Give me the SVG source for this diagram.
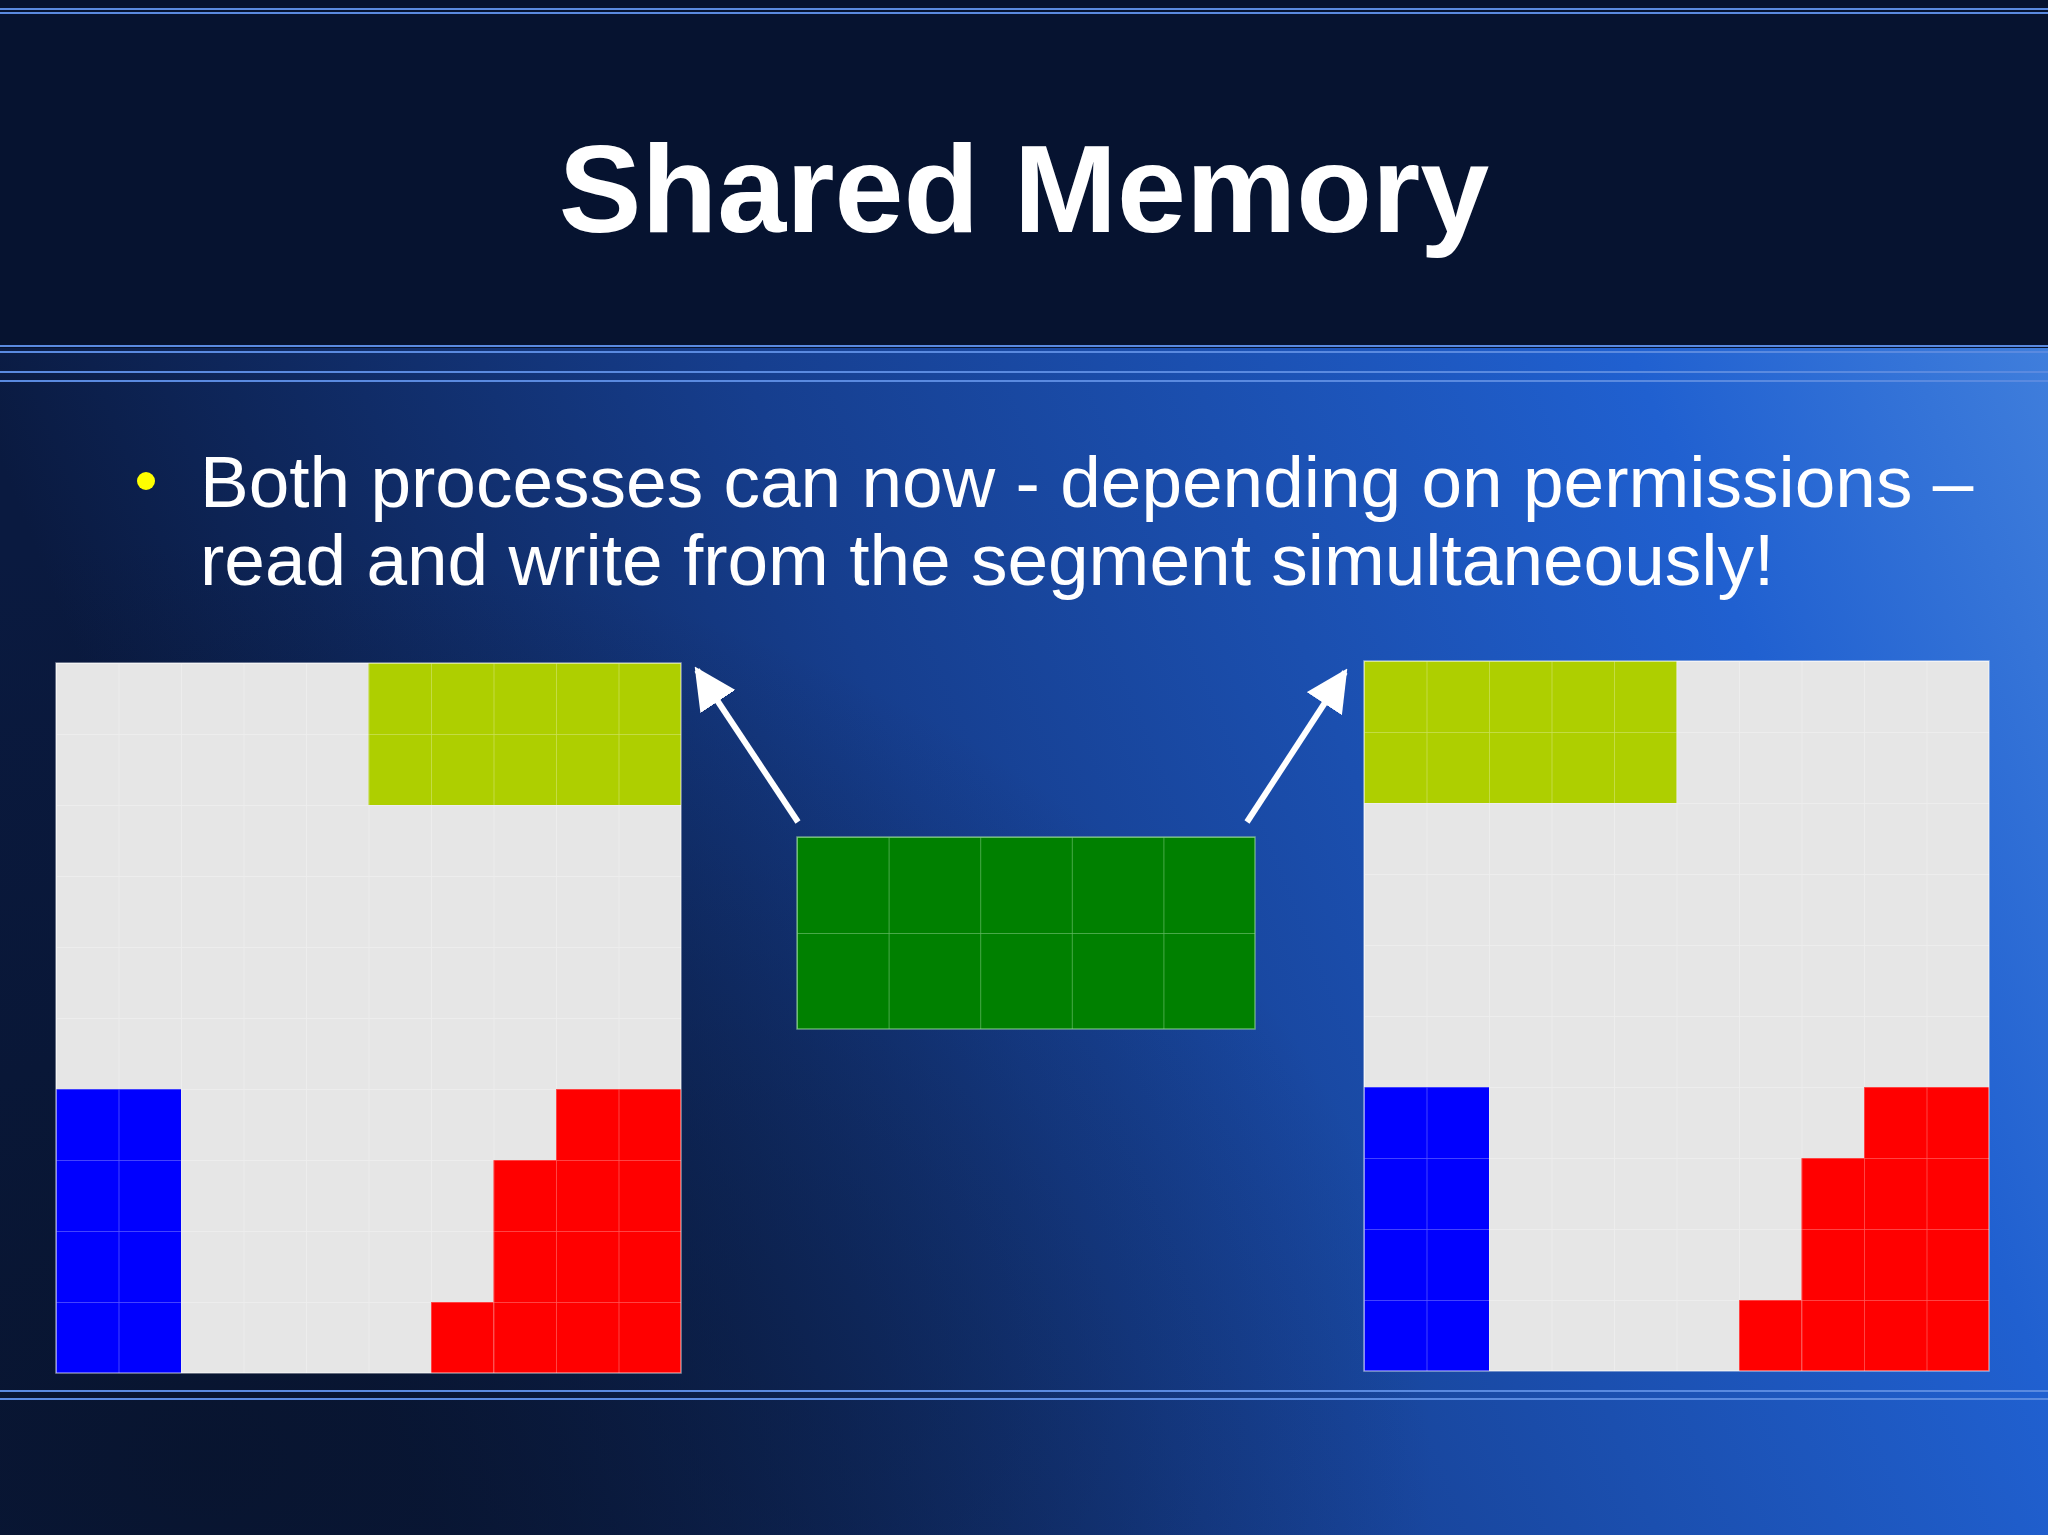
<svg xmlns="http://www.w3.org/2000/svg" width="2048" height="1535" viewBox="0 0 2048 1535">
<defs>
<linearGradient id="bg" x1="0" y1="0.3" x2="1" y2="0">
<stop offset="0" stop-color="#0a1a40"/>
<stop offset="0.35" stop-color="#163e8e"/>
<stop offset="0.75" stop-color="#2060d0"/>
<stop offset="1" stop-color="#4a88e0"/>
</linearGradient>
<radialGradient id="dk" cx="0.1" cy="0.95" r="0.6">
<stop offset="0" stop-color="#08142e" stop-opacity="0.9"/>
<stop offset="1" stop-color="#08142e" stop-opacity="0"/>
</radialGradient>
<pattern id="g1" patternUnits="userSpaceOnUse" width="62.5" height="71"><path d="M0 0H62.5M0 0V71" stroke="#ffffff" stroke-opacity="0.35" stroke-width="1.5" fill="none"/></pattern>
<pattern id="g2" patternUnits="userSpaceOnUse" width="91.6" height="96"><path d="M0 0H91.6M0 0V96" stroke="#9fdc9f" stroke-opacity="0.6" stroke-width="1.5" fill="none"/></pattern>
<marker id="ah" viewBox="0 0 10 10" refX="9" refY="5" markerWidth="7" markerHeight="7" markerUnits="strokeWidth" orient="auto"><path d="M0 0L10 5L0 10Z" fill="#fff"/></marker>
<style>
.lt{fill:#e6e6e6}.yg{fill:#aecf00}.bl{fill:#0000ff}.rd{fill:#ff0000}
.hl{stroke:#5a8ae0;stroke-width:2}
</style>
</defs>
<rect width="2048" height="1535" fill="url(#bg)"/>
<rect width="2048" height="1535" fill="url(#dk)"/>
<rect width="2048" height="348" fill="#061330"/>
<g class="hl"><line x1="0" y1="9" x2="2048" y2="9"/><line x1="0" y1="13" x2="2048" y2="13"/><line x1="0" y1="346" x2="2048" y2="346"/><line x1="0" y1="352" x2="2048" y2="352"/><line x1="0" y1="372" x2="2048" y2="372"/><line x1="0" y1="381" x2="2048" y2="381"/><line x1="0" y1="1391" x2="2048" y2="1391"/><line x1="0" y1="1399" x2="2048" y2="1399"/></g>
<text x="1024" y="232" text-anchor="middle" font-family="Liberation Sans, Arial, sans-serif" font-weight="bold" font-size="124" fill="#fff">Shared Memory</text>
<circle cx="146" cy="481" r="9" fill="#ffff00"/>
<text font-family="Liberation Sans, Arial, sans-serif" font-size="73" fill="#fff"><tspan x="200" y="507">Both processes can now  - depending on permissions –</tspan><tspan x="200" y="585">read and write from the segment simultaneously!</tspan></text>
<g id="left-process" transform="translate(56,663)">
<rect class="lt" width="625" height="710"/>
<rect class="yg" x="312.5" y="0" width="312.5" height="142"/>
<rect class="bl" x="0" y="426" width="125" height="284"/>
<rect class="rd" x="500" y="426" width="125" height="71"/>
<rect class="rd" x="437.5" y="497" width="187.5" height="213"/>
<rect class="rd" x="375" y="639" width="62.5" height="71"/>
<rect width="625" height="710" fill="url(#g1)" stroke="#ffffff" stroke-opacity="0.5" stroke-width="1.5"/>
</g>
<g id="right-process" transform="translate(1364,661)">
<rect class="lt" width="625" height="710"/>
<rect class="yg" x="0" y="0" width="312.5" height="142"/>
<rect class="bl" x="0" y="426" width="125" height="284"/>
<rect class="rd" x="500" y="426" width="125" height="71"/>
<rect class="rd" x="437.5" y="497" width="187.5" height="213"/>
<rect class="rd" x="375" y="639" width="62.5" height="71"/>
<rect width="625" height="710" fill="url(#g1)" stroke="#ffffff" stroke-opacity="0.5" stroke-width="1.5"/>
</g>
<g id="shared-segment" transform="translate(797,837)">
<rect width="458" height="192" fill="#008000"/>
<rect width="458" height="192" fill="url(#g2)" stroke="#9fdc9f" stroke-opacity="0.6" stroke-width="1.5"/>
</g>
<g id="connectors" stroke="#fff" stroke-width="6" fill="none">
<line x1="798" y1="822" x2="697" y2="670" marker-end="url(#ah)"/>
<line x1="1247" y1="822" x2="1345" y2="672" marker-end="url(#ah)"/>
</g>
</svg>
